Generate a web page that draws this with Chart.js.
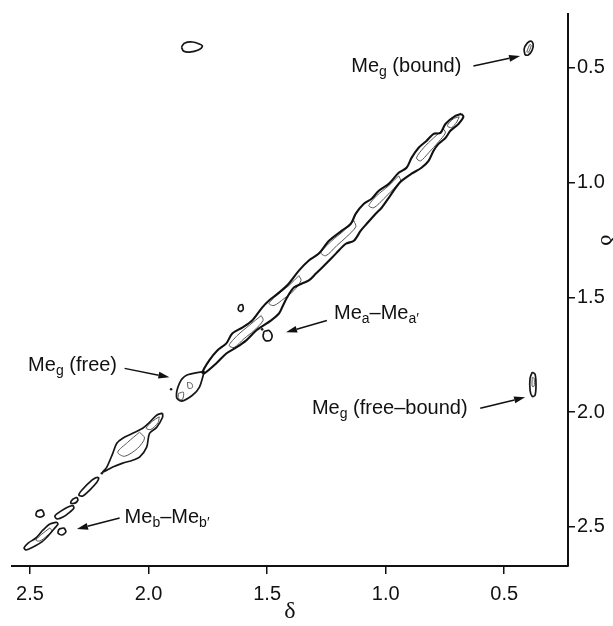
<!DOCTYPE html>
<html>
<head>
<meta charset="utf-8">
<script src="https://cdn.jsdelivr.net/npm/chart.js@4.4.1/dist/chart.umd.min.js"></script>
<style>
  html, body { margin: 0; padding: 0; background: #fff; overflow: hidden; }
  canvas { display: block; }
</style>
</head>
<body>
<canvas id="c" width="613" height="626"></canvas>
<script>
// ---- Axis ticks (δ, ppm) ----
const xTicks = [2.5, 2.0, 1.5, 1.0, 0.5];
const yTicks = [0.5, 1.0, 1.5, 2.0, 2.5];

// ---- Contour outlines, [δ(F2), δ(F1)] ----
const diagonalOuter = [
  [0.681,0.700],[0.706,0.709],[0.748,0.744],[0.769,0.783],[0.798,0.787],[0.828,0.818],[0.861,0.848],
  [0.891,0.892],[0.912,0.935],[0.945,0.957],[0.987,1.005],[1.029,1.035],[1.059,1.070],[1.092,1.092],
  [1.126,1.135],[1.147,1.179],[1.185,1.209],[1.239,1.253],[1.282,1.309],[1.324,1.339],[1.366,1.383],
  [1.408,1.439],[1.450,1.479],[1.492,1.513],[1.521,1.544],[1.563,1.600],[1.605,1.631],[1.647,1.657],
  [1.672,1.700],[1.710,1.731],[1.744,1.774],[1.773,1.826],
  [1.765,1.831],[1.714,1.787],[1.672,1.744],[1.630,1.718],[1.588,1.687],[1.546,1.644],[1.483,1.600],
  [1.450,1.570],[1.437,1.544],[1.416,1.500],[1.387,1.457],[1.353,1.439],[1.324,1.426],[1.294,1.396],
  [1.252,1.353],[1.210,1.309],[1.168,1.266],[1.134,1.253],[1.105,1.209],[1.080,1.179],[1.042,1.135],
  [1.017,1.109],[0.987,1.066],[0.958,1.022],[0.933,0.992],[0.891,0.961],[0.849,0.935],[0.819,0.905],
  [0.798,0.861],[0.777,0.831],[0.748,0.805],[0.727,0.774],[0.693,0.744],[0.672,0.713]
];
const diagBulge1 = [[0.756,0.766],[0.798,0.805],[0.840,0.848],[0.870,0.892],[0.853,0.905],[0.819,0.870],[0.777,0.822],[0.748,0.783]];
const diagBulge2 = [[0.945,0.970],[0.987,1.013],[1.038,1.057],[1.071,1.100],[1.050,1.109],[1.008,1.070],[0.966,1.026],[0.937,0.992]];
const diagBulge3 = [[1.134,1.166],[1.176,1.209],[1.227,1.253],[1.273,1.305],[1.252,1.318],[1.206,1.274],[1.164,1.235],[1.126,1.192]];
const diagBulge4 = [[1.366,1.405],[1.408,1.448],[1.450,1.483],[1.492,1.526],[1.471,1.535],[1.429,1.505],[1.387,1.470],[1.357,1.426]];
const diagBulge5 = [[1.525,1.579],[1.576,1.622],[1.626,1.666],[1.660,1.709],[1.639,1.718],[1.597,1.679],[1.555,1.644],[1.517,1.600]];
const diagTipInner = [[0.690,0.713],[0.715,0.722],[0.740,0.752],[0.722,0.760],[0.700,0.735]];

const megFree      = [[1.765,1.822],[1.840,1.839],[1.870,1.874],[1.882,1.935],[1.861,1.952],[1.815,1.926],[1.786,1.892]];
const megFreeInner = [[1.836,1.870],[1.819,1.874],[1.815,1.892],[1.832,1.896]];
const megFreeCore  = [[1.874,1.918],[1.853,1.913],[1.857,1.944],[1.874,1.940]];

const diamond      = [[1.941,2.004],[1.966,2.013],[1.996,2.044],[2.025,2.070],[2.067,2.092],[2.109,2.113],[2.134,2.135],
  [2.151,2.179],[2.176,2.239],[2.193,2.261],[2.151,2.239],[2.109,2.222],[2.067,2.209],[2.038,2.196],[2.008,2.152],
  [1.996,2.092],[1.966,2.066],[1.941,2.022]];
const diamondInner = [[2.038,2.087],[2.088,2.131],[2.130,2.174],[2.101,2.192],[2.046,2.157],[2.017,2.113]];
const diamondTop   = [[1.955,2.020],[1.985,2.040],[2.010,2.070],[1.990,2.075],[1.960,2.045]];
const smallBlobA   = [[2.218,2.283],[2.239,2.296],[2.281,2.339],[2.294,2.361],[2.277,2.365],[2.248,2.339],[2.218,2.305],[2.210,2.287]];
const smallBlobB   = [[2.302,2.370],[2.319,2.379],[2.328,2.396],[2.311,2.396],[2.298,2.383]];
const mebPair      = [[2.319,2.405],[2.340,2.413],[2.370,2.431],[2.395,2.452],[2.386,2.465],[2.361,2.457],[2.332,2.435],[2.315,2.418]];
const mebCrossUp   = [[2.471,2.431],[2.450,2.426],[2.441,2.448],[2.458,2.457],[2.475,2.448]];
const diagEnd      = [[2.387,2.479],[2.416,2.487],[2.445,2.513],[2.475,2.548],[2.508,2.570],[2.525,2.591],[2.517,2.600],
  [2.487,2.587],[2.450,2.565],[2.424,2.539],[2.395,2.504],[2.382,2.487]];
const diagEndInner = [[2.416,2.504],[2.450,2.531],[2.475,2.557],[2.458,2.561],[2.429,2.539],[2.408,2.518]];
const mebCrossLow  = [[2.378,2.509],[2.357,2.505],[2.349,2.522],[2.366,2.535],[2.382,2.526]];

const meaCrossA    = [[1.618,1.535],[1.605,1.531],[1.601,1.552],[1.613,1.561],[1.622,1.552]];
const meaCrossB    = [[1.513,1.648],[1.492,1.644],[1.479,1.666],[1.487,1.687],[1.508,1.687],[1.517,1.670]];

const megBoundCross = [[1.861,0.409],[1.849,0.392],[1.815,0.387],[1.786,0.396],[1.773,0.405],[1.790,0.422],[1.828,0.431],[1.853,0.426]];
const megBoundDiag  = [[0.412,0.444],[0.416,0.418],[0.403,0.392],[0.387,0.383],[0.378,0.396],[0.382,0.422],[0.399,0.444]];
const megBoundInner = [[0.405,0.430],[0.392,0.398],[0.386,0.402],[0.398,0.432]];
const megFreeBound  = [[0.382,1.826],[0.370,1.835],[0.366,1.883],[0.370,1.926],[0.382,1.931],[0.391,1.905],[0.391,1.852]];
const megFBInner    = [[0.382,1.848],[0.374,1.852],[0.374,1.887],[0.382,1.887]];

const dots = [[2.197,2.266],[1.521,1.639],[1.905,1.900]];

// ---- Annotations: text parts ([text, isSubscript]), anchor and arrow (δ units) ----
const labels = [
  { parts: [['Me',0],['g',1],[' (bound)',0]],       x: 0.681, y: 0.492, align: 'right', arrow: [0.630,0.492, 0.433,0.448] },
  { parts: [['Me',0],['a',1],['–Me',0],['a′',1]],   x: 1.218, y: 1.570, align: 'left',  arrow: [1.248,1.600, 1.420,1.652] },
  { parts: [['Me',0],['g',1],[' (free)',0]],        x: 2.508, y: 1.796, align: 'left',  arrow: [2.101,1.809, 1.912,1.848] },
  { parts: [['Me',0],['g',1],[' (free–bound)',0]],  x: 1.311, y: 1.983, align: 'left',  arrow: [0.601,1.983, 0.412,1.935] },
  { parts: [['Me',0],['b',1],['–Me',0],['b′',1]],   x: 2.101, y: 2.457, align: 'left',  arrow: [2.122,2.461, 2.302,2.509] }
];
const yAxisTitle = 'δ';

// ---- Build datasets ----
function contour(pts, width, color) {
  const d = pts.map(p => ({ x: p[0], y: p[1] }));
  d.push({ x: pts[0][0], y: pts[0][1] });
  return { data: d, showLine: true, pointRadius: 0, borderColor: color, borderWidth: width, fill: false, tension: 0.3 };
}
const heavy = [megFree, diamond, diagEnd, megBoundCross, megBoundDiag, megFreeBound,
               smallBlobA, smallBlobB, mebPair, mebCrossUp, mebCrossLow, meaCrossA, meaCrossB];
const light = [diagBulge1, diagBulge2, diagBulge3, diagBulge4, diagBulge5, diagTipInner, megFreeInner, megFreeCore,
               diamondInner, diamondTop, diagEndInner, megBoundInner, megFBInner];
const datasets = [];
datasets.push(contour(diagonalOuter, 2.1, '#111'));
heavy.forEach(p => datasets.push(contour(p, 1.7, '#161616')));
light.forEach(p => datasets.push(contour(p, 1.0, '#555555')));
datasets.push({ data: dots.map(p => ({ x: p[0], y: p[1] })), showLine: false, pointRadius: 1.3,
                pointBackgroundColor: '#222', pointBorderWidth: 0 });

const FONT = '"Liberation Sans", Arial, Helvetica, sans-serif';
const SERIF = '"Liberation Serif", "DejaVu Serif", serif';

const annotationPlugin = {
  id: 'annot',
  afterDatasetsDraw(chart) {
    const ctx = chart.ctx, xs = chart.scales.x, ys = chart.scales.y;
    ctx.save();
    ctx.fillStyle = '#111';
    ctx.strokeStyle = '#111';
    ctx.textBaseline = 'middle';
    ctx.textAlign = 'left';
    labels.forEach(l => {
      const px = xs.getPixelForValue(l.x), py = ys.getPixelForValue(l.y);
      let total = 0;
      l.parts.forEach(([t, sub]) => { ctx.font = (sub ? 14 : 20) + 'px ' + FONT; total += ctx.measureText(t).width; });
      let cx = l.align === 'right' ? px - total : px;
      l.parts.forEach(([t, sub]) => {
        ctx.font = (sub ? 14 : 20) + 'px ' + FONT;
        ctx.fillText(t, cx, sub ? py + 6 : py);
        cx += ctx.measureText(t).width;
      });
      const [ax1, ay1, ax2, ay2] = l.arrow;
      const x1 = xs.getPixelForValue(ax1), y1 = ys.getPixelForValue(ay1);
      const x2 = xs.getPixelForValue(ax2), y2 = ys.getPixelForValue(ay2);
      const ang = Math.atan2(y2 - y1, x2 - x1);
      const hl = 11, hw = 3.5;
      ctx.lineWidth = 1.5;
      ctx.beginPath();
      ctx.moveTo(x1, y1);
      ctx.lineTo(x2 - hl * Math.cos(ang), y2 - hl * Math.sin(ang));
      ctx.stroke();
      ctx.beginPath();
      ctx.moveTo(x2, y2);
      ctx.lineTo(x2 - hl * Math.cos(ang) + hw * Math.sin(ang), y2 - hl * Math.sin(ang) - hw * Math.cos(ang));
      ctx.lineTo(x2 - hl * Math.cos(ang) - hw * Math.sin(ang), y2 - hl * Math.sin(ang) + hw * Math.cos(ang));
      ctx.closePath();
      ctx.fill();
    });
    // right-hand axis title, beside the 1.0–1.5 interval
    const ty = ys.getPixelForValue(1.25);
    ctx.translate(chart.width - 6, ty);
    ctx.rotate(Math.PI / 2);
    ctx.font = '24px ' + SERIF;
    ctx.textAlign = 'center';
    ctx.textBaseline = 'middle';
    ctx.fillText(yAxisTitle, 0, 0);
    ctx.restore();
  }
};

new Chart(document.getElementById('c'), {
  type: 'scatter',
  data: { datasets },
  options: {
    responsive: false,
    animation: false,
    events: [],
    layout: { padding: { left: 12, top: 13, right: 0, bottom: 0 } },
    plugins: { legend: { display: false }, tooltip: { enabled: false } },
    scales: {
      x: {
        type: 'linear', reverse: true, min: 0.231, max: 2.576,
        afterBuildTicks: s => { s.ticks = xTicks.map(v => ({ value: v })); },
        afterFit: s => { s.height = 60; },
        ticks: { callback: v => v.toFixed(1), font: { family: FONT, size: 20 }, color: '#111',
                 padding: 8, maxRotation: 0, autoSkip: false },
        grid: { drawOnChartArea: false, drawTicks: true, tickLength: 8, color: '#111', lineWidth: 1.5 },
        border: { display: true, color: '#111', width: 2 },
        title: { display: true, text: 'δ', color: '#111', font: { family: SERIF, size: 24 },
                 padding: { top: 0, bottom: 0 } }
      },
      y: {
        type: 'linear', position: 'right', reverse: true, min: 0.265, max: 2.67,
        afterBuildTicks: s => { s.ticks = yTicks.map(v => ({ value: v })); },
        afterFit: s => { s.width = 45; },
        ticks: { callback: v => v.toFixed(1), font: { family: FONT, size: 20 }, color: '#111',
                 padding: 2, autoSkip: false },
        grid: { drawOnChartArea: false, drawTicks: true, tickLength: 7, color: '#111', lineWidth: 1.5 },
        border: { display: true, color: '#111', width: 2 },
        title: { display: false }
      }
    }
  },
  plugins: [annotationPlugin]
});
</script>
</body>
</html>
